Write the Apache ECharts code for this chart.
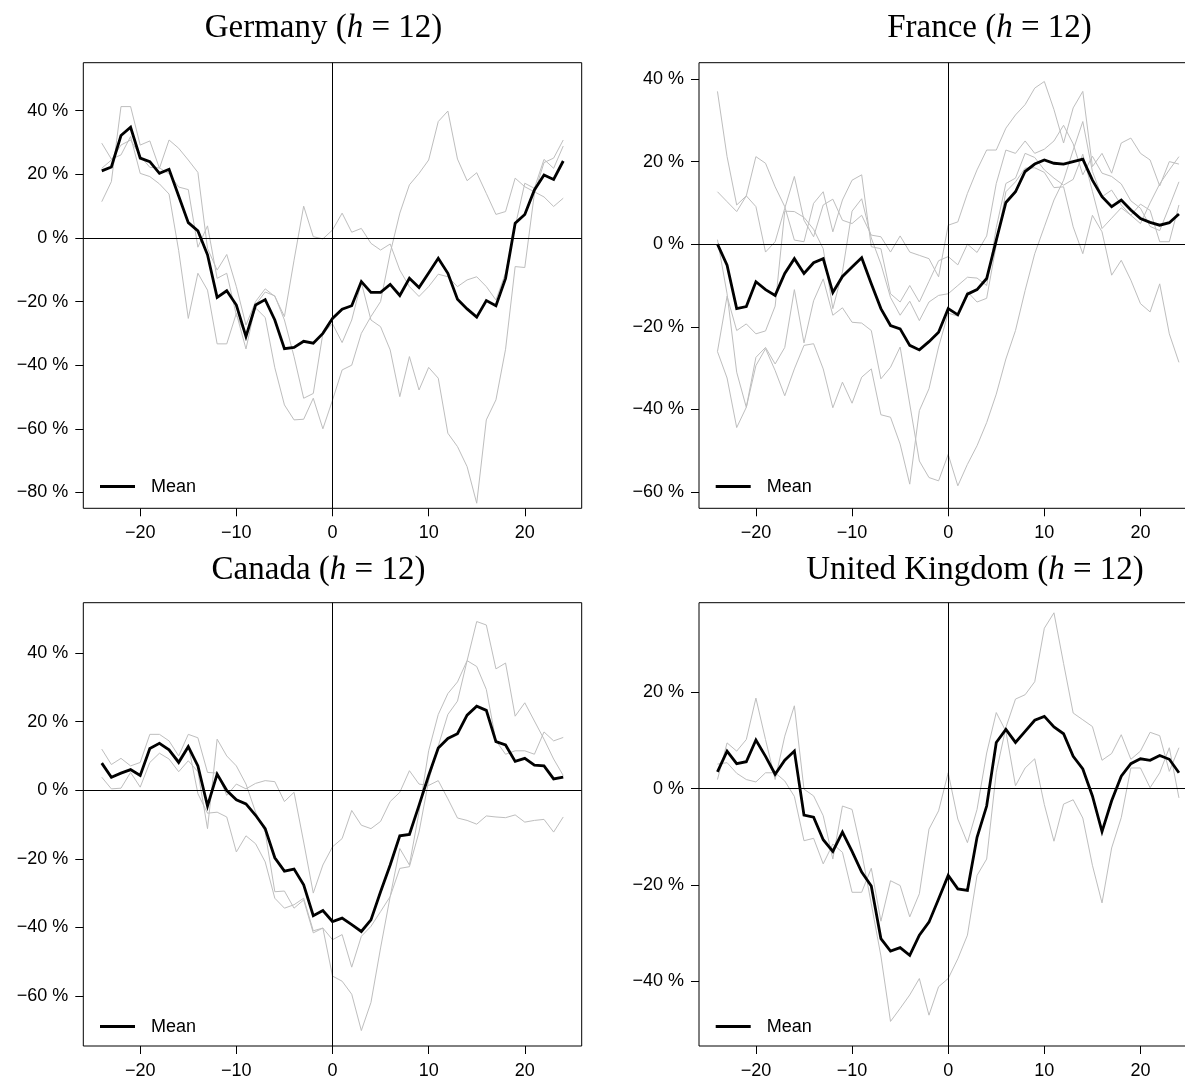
<!DOCTYPE html>
<html><head><meta charset="utf-8">
<script src="https://cdn.jsdelivr.net/npm/echarts@6/dist/echarts.min.js"></script>
<style>html,body{margin:0;padding:0;background:#fff;overflow:hidden}#c{width:1200px;height:1080px}</style>
</head><body><div id="c"></div>
<script>
const lags = [-24,-23,-22,-21,-20,-19,-18,-17,-16,-15,-14,-13,-12,-11,-10,-9,-8,-7,-6,-5,-4,-3,-2,-1,0,1,2,3,4,5,6,7,8,9,10,11,12,13,14,15,16,17,18,19,20,21,22,23,24];
const xTicks = [-20,-10,0,10,20];

const germanyYTicks = [-80,-60,-40,-20,0,20,40];
const germanyMean = [21.1,22.3,32.2,34.8,25.1,24.0,20.3,21.6,13.2,4.8,2.2,-5.3,-18.7,-16.6,-21.1,-31.0,-21.1,-19.4,-25.8,-34.8,-34.4,-32.5,-33.1,-30.0,-25.3,-22.4,-21.3,-13.7,-17.1,-17.1,-14.6,-18.1,-12.7,-15.6,-11.0,-6.4,-11.1,-19.3,-22.3,-24.9,-19.7,-21.3,-12.7,4.6,7.4,15.1,19.8,18.4,24.2];
const germanyA = [11.4,17.7,41.3,41.3,29.2,30.5,21.9,30.8,28.2,24.5,20.6,-3.3,-10.1,-5.2,-15.3,-27.4,-20,-16,-18.4,-24.7,-7,10,0.4,-0.3,2.5,7.8,1.8,3.0,-1.7,-3.8,-1.9,-10.1,-15.3,-18.4,-15.3,-11.4,-12.2,-15.3,-13.2,-12.2,-15.3,-19.5,-11,3.6,17.2,15.6,24.7,21.9,28.9];
const germanyB = [29.8,24.8,26.1,31.9,20.3,19.3,17.0,13.8,-4,-25.3,-11.1,-16.4,-33.3,-33.3,-23.7,-34.9,-21,-17,-18.2,-25.8,-37.3,-50.4,-48.9,-30,-27,-32.9,-25.8,-14,-25.8,-27.9,-35.2,-49.9,-37.3,-47.8,-40.7,-44.1,-61.4,-65.6,-71.9,-83.4,-57.2,-50.9,-35,-9.0,-9.3,14.0,23.7,25.1,30.8];
const germanyC = [21.9,24.5,29.2,30.8,25.8,22.2,22.0,20.2,16,15.2,-2.9,3.8,-12.7,-11.1,-24.3,-30.7,-22,-25,-40.8,-52.5,-57.2,-57,-50.4,-60,-51,-41.5,-40,-30,-24.7,-20,-4.8,7.8,16.7,20.3,24.5,36.6,39.9,24.8,18,20.5,14,7.4,8.3,18.8,16.1,14.5,12.9,9.9,12.5];

const franceYTicks = [-60,-40,-20,0,20,40];
const franceMean = [0,-5.1,-15.6,-15.1,-9.1,-11.0,-12.4,-7.1,-3.5,-7.1,-4.5,-3.5,-11.7,-7.8,-5.5,-3.3,-9.6,-15.6,-19.7,-20.5,-24.5,-25.6,-23.6,-21.3,-15.6,-17.1,-12.1,-11.0,-8.3,1.0,10.1,12.7,17.6,19.4,20.4,19.6,19.4,20.0,20.6,15.5,11.5,9.1,10.7,8.3,6.2,5.3,4.6,5.2,7.3];
const franceA = [37.0,21.2,9.5,11.7,9.1,-1.9,0.6,8.7,16.4,5.8,1.8,9.5,10.9,5.8,5.0,7.0,2.2,1.8,-1.9,2.0,-1.9,-2.7,-3.5,-7.9,4.6,5.4,12.3,18.0,22.8,22.8,28.1,31.3,33.8,37.8,39.4,32.6,24.5,33.0,37.0,18.8,22.0,17.2,24.5,25.7,22.0,20.4,14.1,20.0,19.4];
const franceB = [12.7,10.3,7.9,11.7,21.2,19.6,13.9,9.1,1.0,0.6,9.9,12.7,3.0,10.7,15.5,16.8,-0.6,-1.1,-12,-14,-10,-14,-9,-4,-3,-5,0,-2,2,14.7,22.8,22,25,22,23,25,28.8,24.3,16.8,21.3,17.2,16.4,14.6,10.5,8.7,4.3,3.3,9.1,15.1];
const franceC = [1.1,-12.0,-31.0,-39.5,-29.4,-25.3,-30.6,-36.7,-30.2,-24.5,-24.1,-30.2,-39.6,-33.4,-38.5,-32.2,-30.2,-41.3,-41.9,-48.4,-58.1,-40.3,-35.0,-24.9,-16.7,-17.4,-11.5,-14,-13.1,-0.2,12.7,15.1,18.4,18.5,17.4,13.7,13.9,4.2,-2.3,7.0,3.0,-7.5,-3.9,-8.7,-14.4,-16.4,-9.6,-21.7,-28.6];
const franceD = [-26.0,-12.6,-20.9,-19.3,-21.7,-21.0,-15.0,8.0,7.9,6.5,3.6,-1.1,-15.6,-6.7,8.0,11.0,1.5,-4.8,-12.9,-17.2,-13.8,-18.5,-14.0,-12.4,-12,-10,-8,-8.2,-10,4,14.7,16,22,21,18,16,14.3,15.7,21.8,12.8,3.8,6.3,8.8,7,9.7,8.2,0.6,0.6,9.5];
const franceE = [-26.0,-32.4,-44.4,-39.5,-27.4,-25.0,-29.0,-25.0,-11.0,-23.9,-13.7,-8.4,-17.2,-15.4,-18.9,-19.1,-20.9,-32.6,-29.8,-24.9,-38.7,-52.5,-56.5,-57.3,-50.9,-58.5,-53.3,-48.8,-43.2,-36.3,-27.8,-20.9,-11.2,-2.3,4.2,10.7,15.5,22.8,29.7,17.6,11.5,13.1,9.5,7.0,5.0,10.0,14.6,18.0,21.2];

const canadaYTicks = [-60,-40,-20,0,20,40];
const canadaMean = [7.9,3.8,5.0,6.0,4.3,12.2,13.7,11.8,8.1,12.7,7.1,-4.6,4.7,-0.1,-2.8,-4.0,-7.3,-11.2,-19.7,-23.6,-23.0,-27.6,-36.6,-35.1,-38.3,-37.3,-39.2,-41.2,-37.8,-29.6,-21.8,-13.3,-12.9,-4.4,4.3,12.3,15.1,16.5,21.9,24.5,23.3,14.2,13.2,8.4,9.3,7.3,7.1,3.3,3.8];
const canadaA = [12.0,7.5,9.3,7.1,8.1,16.3,16.3,14.4,10.0,16.3,15.3,5.2,5.0,-1.5,1.8,0.4,2.0,2.8,2.5,-3.3,-0.6,-15.1,-30.0,-21.8,-16.5,-14.1,-5.9,-10.2,-11.2,-9.1,-3.3,-0.6,5.7,1.8,1.4,2.8,-2.5,-8.1,-8.8,-9.9,-7.5,-7.8,-8.0,-7.2,-9.3,-8.8,-8.5,-12.2,-7.8];
const canadaB = [3.8,0.4,0.6,5.2,0.9,8.1,10.8,9.1,5.4,8.6,5.4,-11.2,14.9,10.0,7.1,1.8,-6.4,-12.2,-29.6,-29.4,-34.4,-32.0,-41.6,-40.2,-43.6,-42.1,-51.6,-42.6,-39.7,-35.4,-31.0,-17.0,-21.8,-6.4,11.5,22.1,28.2,31.6,37.8,49.2,48.2,35.4,37.1,21.6,25.5,20.2,14.9,9.1,4.3];
const canadaC = [7.9,3.5,5.1,5.7,3.9,12.2,14.0,11.9,8.9,13.2,-1.0,-6.7,-6.4,-7.8,-18.0,-13.3,-15.6,-20.9,-31.5,-34.4,-33.4,-31.5,-41.0,-40.2,-54.2,-55.7,-59.5,-70.1,-61.9,-46.0,-31.0,-22.8,-22.3,-12.2,2.8,12.9,22.1,26.0,37.8,36.1,29.4,14.4,10.5,11.5,11.5,10.5,17.0,14.4,15.4];

const ukYTicks = [-40,-20,0,20];
const ukMean = [3.5,7.8,5.2,5.6,10.1,6.7,3.0,5.9,7.8,-5.5,-5.9,-10.6,-13.0,-9.0,-13.0,-17.3,-20.2,-31.1,-33.7,-33.0,-34.6,-30.4,-27.7,-22.9,-18.0,-20.8,-21.1,-10.1,-3.6,9.6,12.3,9.6,11.9,14.2,15.0,12.8,11.4,6.7,4.1,-1.5,-8.9,-2.5,2.6,5.2,6.2,5.9,6.9,6.1,3.3];
const ukA = [1.9,9.5,7.8,10.2,18.8,10.2,1.9,10.9,17.2,-0.1,-1.5,-5.6,-14.6,-3.6,-4.3,-13.2,-23.9,-34.7,-48.3,-45.6,-42.8,-39.4,-47.0,-41.1,-39.4,-35.3,-30.4,-18.0,-14.6,3.4,12.7,18.6,19.5,22.2,33.3,36.5,26.0,15.7,14.3,12.9,5.9,7.3,11.2,6.1,7.8,11.7,11.0,3.6,8.5];
const ukB = [5.1,5.4,3.2,1.9,1.4,3.3,3.3,1.6,-1.6,-10.8,-10.3,-15.6,-11.5,-13.2,-21.5,-21.5,-16.5,-27.5,-19.1,-20.1,-26.6,-21.8,-8.4,-4.6,3.3,-6.3,-11.2,-4.3,7.4,15.8,11.9,0.6,4.3,6.2,-3.3,-10.9,-3.2,-2.3,-6.1,-15.9,-23.7,-12.3,-6.0,4.3,4.3,0.2,3.3,8.5,-1.9];

const panels = [
  {title:'Germany', left:83.3, top:62.7, ymin:-85.0, ymax:55.1, yTicks:germanyYTicks, mean:germanyMean, grays:[germanyA,germanyB,germanyC], tx:323.5, ty:28.5},
  {title:'France', left:699, top:62.7, ymin:-63.95, ymax:43.95, yTicks:franceYTicks, mean:franceMean, grays:[franceA,franceB,franceC,franceD,franceE], tx:989.5, ty:28.5},
  {title:'Canada', left:83.3, top:602.7, ymin:-74.6, ymax:54.7, yTicks:canadaYTicks, mean:canadaMean, grays:[canadaA,canadaB,canadaC], tx:318.5, ty:570.5},
  {title:'United Kingdom', left:699, top:602.7, ymin:-53.4, ymax:38.6, yTicks:ukYTicks, mean:ukMean, grays:[ukA,ukB], tx:975, ty:570.5}
];
const PW = 498.4, PH = 445.6;
const SANS = 'Liberation Sans, Arial, Helvetica, sans-serif';
const SERIF = 'Liberation Serif, Times New Roman, serif';
const fmtY = v => (v < 0 ? '\u2212' : '') + Math.abs(v) + ' %';
const fmtX = v => (v < 0 ? '\u2212' : '') + Math.abs(v);

const grid = [], xAxis = [], yAxis = [], series = [], graphic = [];
panels.forEach((p, k) => {
  grid.push({left:p.left, top:p.top, width:PW, height:PH, show:true, borderColor:'#000', borderWidth:1, backgroundColor:'transparent', containLabel:false});
  xAxis.push({type:'value', gridIndex:k, min:-25.92, max:25.92,
    axisLine:{show:false, onZero:false},
    axisTick:{show:true, customValues:xTicks, length:8, lineStyle:{color:'#000', width:1}},
    axisLabel:{show:true, customValues:xTicks, formatter:fmtX, margin:16, color:'#000', fontSize:18, fontFamily:SANS},
    splitLine:{show:false}});
  yAxis.push({type:'value', gridIndex:k, min:p.ymin, max:p.ymax,
    axisLine:{show:false, onZero:false},
    axisTick:{show:true, customValues:p.yTicks, length:8, lineStyle:{color:'#000', width:1}},
    axisLabel:{show:true, customValues:p.yTicks, formatter:fmtY, margin:15, color:'#000', fontSize:18, fontFamily:SANS},
    splitLine:{show:false}});
  p.grays.forEach((g, j) => {
    const s = {type:'line', xAxisIndex:k, yAxisIndex:k, data:lags.map((x,i)=>[x,g[i]]), symbol:'none', silent:true,
      lineStyle:{color:'#bebebe', width:1}, z:2, emphasis:{disabled:true}};
    if (j === 0) {
      s.markLine = {silent:true, symbol:'none', label:{show:false}, animation:false,
        lineStyle:{color:'#000', width:1, type:'solid'}, emphasis:{disabled:true},
        data:[{yAxis:0},{xAxis:0}]};
      s.z = 3;
    }
    series.push(s);
  });
  series.push({type:'line', name:'Mean', xAxisIndex:k, yAxisIndex:k, data:lags.map((x,i)=>[x,p.mean[i]]), symbol:'none', silent:true,
    lineStyle:{color:'#000', width:2.8, join:'miter'}, z:4, emphasis:{disabled:true}});
  const ly = p.top + PH - 21.8;
  graphic.push({type:'line', silent:true, shape:{x1:p.left+16.7, y1:ly, x2:p.left+51.7, y2:ly}, style:{stroke:'#000', lineWidth:2.8}});
  graphic.push({type:'text', silent:true, x:p.left+67.7, y:ly+0.5, style:{text:'Mean', fill:'#000', font:'18px ' + SANS, verticalAlign:'middle', align:'left'}});
  graphic.push({type:'text', silent:true, x:p.tx, y:p.ty, style:{
    text:'{n|' + p.title + ' (}{i|h}{n| = 12)}', align:'center', verticalAlign:'middle',
    rich:{n:{fontFamily:SERIF, fontSize:33, fill:'#000'}, i:{fontFamily:SERIF, fontSize:33, fontStyle:'italic', fill:'#000'}}}});
});

const chart = echarts.init(document.getElementById('c'), null, {renderer:'canvas'});
chart.setOption({animation:false, backgroundColor:'#fff', grid, xAxis, yAxis, series, graphic});
</script></body></html>
